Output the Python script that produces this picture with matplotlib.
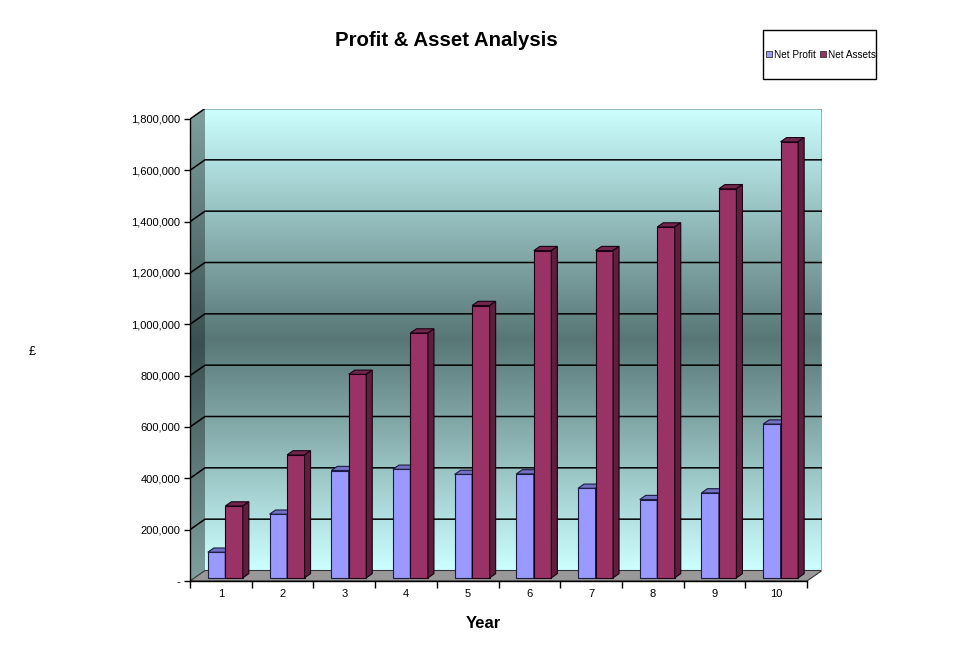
import numpy as np
import matplotlib
matplotlib.use("Agg")
import matplotlib.pyplot as plt
from matplotlib.patches import Polygon, Rectangle, Patch

# ---------------- data ----------------
years = [1, 2, 3, 4, 5, 6, 7, 8, 9, 10]
net_profit = [100000, 248000, 418000, 423000, 403000, 405000, 349000, 305000, 331000, 599000]
net_assets = [280000, 479000, 793000, 954000, 1061000, 1275000, 1275000, 1367000, 1516000, 1699000]
series_names = ["Net Profit", "Net Assets"]
y_ticks = [0, 200000, 400000, 600000, 800000, 1000000, 1200000, 1400000, 1600000, 1800000]
y_max = 1800000

plt.rcParams['font.family'] = ['Liberation Sans', 'DejaVu Sans']

W, H = 977, 669
fig = plt.figure(figsize=(W / 100, H / 100), dpi=100)
fig.patch.set_facecolor('white')

# pixel geometry of the pseudo-3D frame
x0_px, front_bottom_px = 190, 581
cat_px = 617 / len(years)
plot_h_px = 462
val_px = plot_h_px / y_max
depth_dx_px, depth_dy_px = 15, 10.5

dxb = depth_dx_px / cat_px          # depth offset in category units
dyb = depth_dy_px / val_px          # depth offset in value units

ax = fig.add_axes([x0_px / W, (H - front_bottom_px) / H,
                   (617 + depth_dx_px) / W, (plot_h_px + depth_dy_px) / H])
ax.set_facecolor('none')
xmin, xmax = 0.5, len(years) + 0.5

def grad(light, dark, n=256):
    t = np.linspace(0, 1, n)
    w = 1 - np.abs(t - 0.5) * 2       # 0 at edges, 1 in the middle
    light = np.array(light) / 255
    dark = np.array(dark) / 255
    return (light[None, :] * (1 - w[:, None]) + dark[None, :] * w[:, None])[:, None, :]

# back wall
ax.imshow(grad((204, 255, 255), (88, 118, 118)), extent=[xmin + dxb, xmax + dxb, dyb, y_max + dyb],
          origin='lower', aspect='auto', interpolation='bilinear', zorder=0)
# left wall
lw_poly = Polygon([(xmin, 0), (xmin + dxb, dyb), (xmin + dxb, y_max + dyb), (xmin, y_max)],
                  closed=True, facecolor='none', edgecolor='none', transform=ax.transData)
ax.add_patch(lw_poly)
im2 = ax.imshow(grad((128, 160, 160), (58, 80, 80)), extent=[xmin, xmin + dxb, 0, y_max + dyb],
                origin='lower', aspect='auto', interpolation='bilinear', zorder=0.5)
im2.set_clip_path(lw_poly)
# floor
ax.add_patch(Polygon([(xmin, 0), (xmax, 0), (xmax + dxb, dyb), (xmin + dxb, dyb)], closed=True,
                     facecolor='#999999', edgecolor='#333333', lw=0.8, zorder=1))
# right edge of back wall
ax.plot([xmax + dxb, xmax + dxb], [dyb, y_max + dyb], color='#a0a0a0', lw=1.2, zorder=1)

# gridlines on walls
for v in y_ticks[1:]:
    ax.plot([xmin, xmin + dxb, xmax + dxb], [v, v + dyb, v + dyb], color='black', lw=1.1, zorder=1.5)

# bars
f_front, f_depth = 0.3, 0.4
ofx, ofy = f_front * dxb, f_front * dyb
ddx, ddy = f_depth * dxb, f_depth * dyb
bw = 17.5 / cat_px
x = np.array(years, dtype=float)

styles = [
    dict(front='#9999ff', top='#7272c4', side='#5c5c99', edge='#1a1a40'),
    dict(front='#993366', top='#73264d', side='#5c1f3d', edge='#1a0010'),
]
for i, yr in enumerate(years):
    for s, vals in enumerate([net_profit, net_assets]):
        st = styles[s]
        left = yr - bw + s * bw + ofx
        v = vals[i]
        z = 2 + i * 0.1 + s * 0.01
        ax.bar(left, v, width=bw, bottom=ofy, align='edge', color=st['front'],
               edgecolor=st['edge'], lw=0.8, zorder=z)
        ax.add_patch(Polygon([(left, v + ofy), (left + bw, v + ofy), (left + bw + ddx, v + ofy + ddy),
                              (left + ddx, v + ofy + ddy)], closed=True, facecolor=st['top'],
                             edgecolor=st['edge'], lw=0.8, zorder=z))
        ax.add_patch(Polygon([(left + bw, ofy), (left + bw, v + ofy), (left + bw + ddx, v + ofy + ddy),
                              (left + bw + ddx, ofy + ddy)], closed=True, facecolor=st['side'],
                             edgecolor=st['edge'], lw=0.8, zorder=z))

# axes / ticks
ax.set_xlim(xmin, xmax + dxb)
ax.set_ylim(0, y_max + dyb)
for sp in ['top', 'right']:
    ax.spines[sp].set_visible(False)
ax.spines['left'].set_bounds(0, y_max)
ax.spines['bottom'].set_bounds(xmin, xmax)
ax.spines['left'].set_zorder(5)
ax.spines['bottom'].set_zorder(5)
ax.spines['left'].set_linewidth(1.0)
ax.spines['bottom'].set_linewidth(1.0)

ax.set_yticks(y_ticks)
ax.set_yticklabels(['-' if v == 0 else f"{v:,}" for v in y_ticks], fontsize=8)
ax.tick_params(axis='y', direction='out', length=4, width=1, pad=3)

ax.set_xticks(np.arange(xmin, xmax + 0.01, 1.0))
ax.set_xticklabels([])
ax.set_xticks(years, minor=True)
ax.set_xticklabels([str(y) for y in years], minor=True, fontsize=8)
ax.tick_params(axis='x', which='major', direction='out', length=5, width=1)
ax.tick_params(axis='x', which='minor', length=0, pad=6)

# texts
fig.text(446 / W, 1 - 40 / H, "Profit & Asset Analysis", ha='center', va='center',
         fontsize=14.7, fontweight='bold')
fig.text(483 / W, 1 - 623 / H, "Year", ha='center', va='center', fontsize=12, fontweight='bold')
fig.text(32 / W, 1 - 352 / H, "£", ha='center', va='center', fontsize=9)

# legend
fig.patches.append(Rectangle((763 / W, 1 - 79 / H), 113 / W, 49 / H, transform=fig.transFigure,
                             facecolor='white', edgecolor='black', lw=1.0, figure=fig))
handles = [Patch(facecolor=styles[k]['front'], edgecolor='#333333', lw=0.6) for k in range(2)]
fig.legend(handles, series_names, loc='center', bbox_to_anchor=(821 / W, 1 - 54.5 / H), ncol=2,
           frameon=False, fontsize=7.2, handlelength=0.6, handleheight=0.6, handletextpad=0.2,
           columnspacing=0.4, borderpad=0, borderaxespad=0)

fig.savefig("out.png", dpi=100, facecolor='white')
